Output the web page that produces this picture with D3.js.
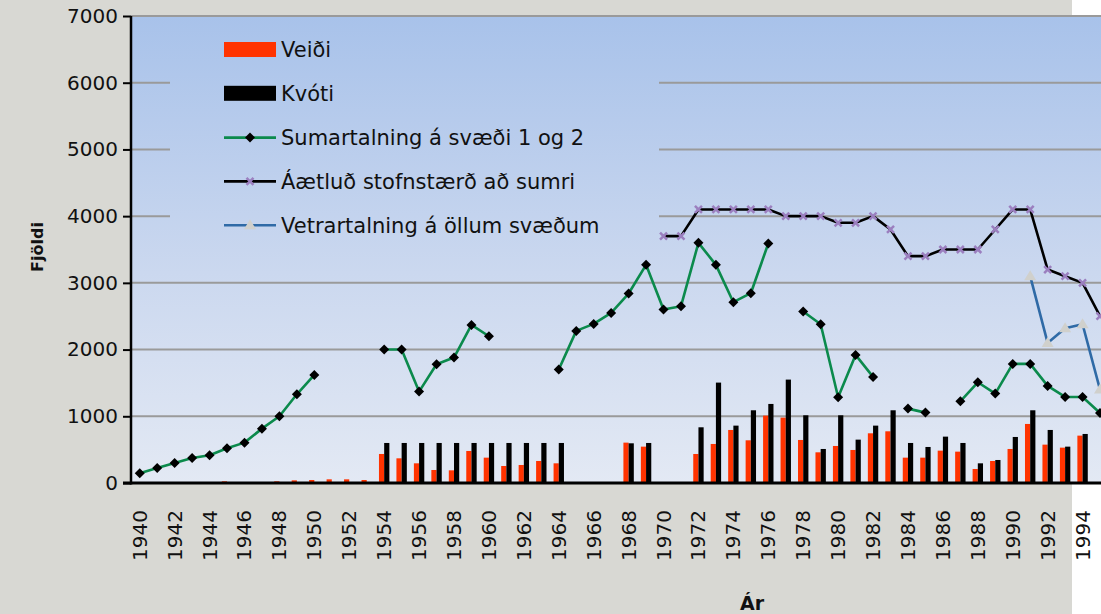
<!DOCTYPE html>
<html>
<head>
<meta charset="utf-8">
<script src="https://cdn.jsdelivr.net/npm/d3@7"></script>
<style>
  body { margin: 0; overflow: hidden; background: #fff; }
  svg { display: block; }
</style>
</head>
<body>
<div id="vis"></div>
<script>
// chart data
const years = [1940, 1941, 1942, 1943, 1944, 1945, 1946, 1947, 1948, 1949,
  1950, 1951, 1952, 1953, 1954, 1955, 1956, 1957, 1958, 1959,
  1960, 1961, 1962, 1963, 1964, 1965, 1966, 1967, 1968, 1969,
  1970, 1971, 1972, 1973, 1974, 1975, 1976, 1977, 1978, 1979,
  1980, 1981, 1982, 1983, 1984, 1985, 1986, 1987, 1988, 1989,
  1990, 1991, 1992, 1993, 1994, 1995];

// Veiði (catch)
const veidi = [null, null, null, null, 10, 25, null, 10, 25, 40,
  45, 55, 55, 45, 435, 370, 295, 195, 190, 480,
  380, 255, 270, 330, 295, null, null, null, 605, 545,
  null, null, 435, 585, 795, 640, 1010, 980, 645, 460,
  555, 495, 745, 775, 380, 380, 485, 470, 210, 330,
  510, 885, 575, 530, 710, null];

// Kvóti (quota)
const kvoti = [null, null, null, null, null, null, null, null, null, null,
  null, null, null, null, 600, 600, 600, 600, 600, 600,
  600, 600, 600, 600, 600, null, null, null, 595, 600,
  null, null, 835, 1505, 860, 1090, 1185, 1550, 1015, 510,
  1015, 650, 860, 1090, 600, 540, 695, 600, 295, 345,
  690, 1090, 795, 545, 735, null];

// Sumartalning á svæði 1 og 2
const sumar = [145, 225, 300, 375, 415, 520, 605, 815, 1000, 1330,
  1620, null, null, null, 2000, 2000, 1370, 1780, 1880, 2370,
  2200, null, null, null, 1700, 2280, 2385, 2550, 2840, 3270,
  2600, 2650, 3600, 3270, 2710, 2845, 3590, null, 2570, 2380,
  1285, 1920, 1590, null, 1115, 1055, null, 1225, 1510, 1340,
  1785, 1785, 1455, 1290, 1290, 1050];

// Áætluð stofnstærð að sumri
const aetlud = [null, null, null, null, null, null, null, null, null, null,
  null, null, null, null, null, null, null, null, null, null,
  null, null, null, null, null, null, null, null, null, null,
  3700, 3700, 4100, 4100, 4100, 4100, 4100, 4000, 4000, 4000,
  3900, 3900, 4000, 3800, 3400, 3400, 3500, 3500, 3500, 3800,
  4100, 4100, 3200, 3100, 3000, 2500];

// Vetrartalning á öllum svæðum
const vetrar = [null, null, null, null, null, null, null, null, null, null,
  null, null, null, null, null, null, null, null, null, null,
  null, null, null, null, null, null, null, null, null, null,
  null, null, null, null, null, null, null, null, null, null,
  null, null, null, null, null, null, null, null, null, null,
  null, 3100, 2100, 2320, 2380, 1400];

const yTicks = [0, 1000, 2000, 3000, 4000, 5000, 6000, 7000];

const legendItems = [
  { name: 'Veiði', type: 'bar', color: '#ff3300' },
  { name: 'Kvóti', type: 'bar', color: '#000000' },
  { name: 'Sumartalning á svæði 1 og 2', type: 'line', color: '#0b8a4c', marker: 'diamond' },
  { name: 'Áætluð stofnstærð að sumri', type: 'line', color: '#000000', marker: 'cross' },
  { name: 'Vetrartalning á öllum svæðum', type: 'line', color: '#2f6aa6', marker: 'triangle' }
];

const width = 1101;
const height = 614;
const font = 'DejaVu Sans, sans-serif';

const svg = d3.select('#vis').append('svg')
  .attr('width', width)
  .attr('height', height);

// plot background gradient
let grad = svg.append('defs').append('linearGradient')
  .attr('id', 'plotBg')
  .attr('gradientUnits', 'userSpaceOnUse')
  .attr('x1', 0).attr('y1', 16)
  .attr('x2', 0).attr('y2', 483);
grad.append('stop').attr('offset', '0%').attr('stop-color', '#a8c2ea');
grad.append('stop').attr('offset', '55%').attr('stop-color', '#cbd8ef');
grad.append('stop').attr('offset', '100%').attr('stop-color', '#e3e9f4');

// page background: grey with a white strip on the right
svg.append('rect').attr('x', 0).attr('y', 0).attr('width', 1072).attr('height', height).attr('fill', '#d8d8d3');
svg.append('rect').attr('x', 1072).attr('y', 0).attr('width', width - 1072).attr('height', height).attr('fill', '#ffffff');

// scales
let x = d3.scaleBand()
  .domain(years)
  .range([131, 131 + years.length * 17.46]);

let y = d3.scaleLinear()
  .domain([0, 7000])
  .range([483, 16]);

let cx = d => x(d) + x.bandwidth() / 2;

// plot area
svg.append('rect')
  .attr('x', 131).attr('y', y(7000))
  .attr('width', width - 131).attr('height', y(0) - y(7000))
  .attr('fill', 'url(#plotBg)');

// gridlines
svg.append('g').selectAll('line')
  .data(yTicks.filter(d => d > 0))
  .join('line')
  .attr('x1', 131).attr('x2', width)
  .attr('y1', d => y(d)).attr('y2', d => y(d))
  .attr('stroke', '#9a9a9a')
  .attr('stroke-width', 2);

// legend box hides the gridlines behind it
svg.append('rect')
  .attr('x', 170).attr('y', 30)
  .attr('width', 489).attr('height', 220)
  .attr('fill', 'url(#plotBg)');

// bars
let barW = 5.2;
let bars = svg.append('g');
bars.selectAll('.veidi')
  .data(years.map((yr, i) => ({ yr: yr, v: veidi[i] })).filter(d => d.v != null))
  .join('rect')
  .attr('class', 'veidi')
  .attr('x', d => cx(d.yr) - barW)
  .attr('width', barW)
  .attr('y', d => y(d.v))
  .attr('height', d => y(0) - y(d.v))
  .attr('fill', '#ff3300');

bars.selectAll('.kvoti')
  .data(years.map((yr, i) => ({ yr: yr, v: kvoti[i] })).filter(d => d.v != null))
  .join('rect')
  .attr('class', 'kvoti')
  .attr('x', d => cx(d.yr))
  .attr('width', barW)
  .attr('y', d => y(d.v))
  .attr('height', d => y(0) - y(d.v))
  .attr('fill', '#000000');

// marker shapes
function drawMarker(g, kind, px, py) {
  if (kind === 'diamond') {
    g.append('path')
      .attr('d', `M${px},${py - 5}L${px + 5},${py}L${px},${py + 5}L${px - 5},${py}Z`)
      .attr('fill', '#000');
  } else if (kind === 'cross') {
    g.append('path')
      .attr('d', `M${px - 3.5},${py - 3.5}L${px + 3.5},${py + 3.5}M${px + 3.5},${py - 3.5}L${px - 3.5},${py + 3.5}`)
      .attr('stroke', '#9b7fbf')
      .attr('stroke-width', 2.5);
  } else if (kind === 'triangle') {
    g.append('path')
      .attr('d', `M${px},${py - 6}L${px + 6},${py + 4}L${px - 6},${py + 4}Z`)
      .attr('fill', '#d0d0cc');
  }
}

let series = [
  { values: sumar, color: '#0b8a4c', marker: 'diamond' },
  { values: aetlud, color: '#000000', marker: 'cross' },
  { values: vetrar, color: '#2f6aa6', marker: 'triangle' }
];

let line = d3.line()
  .defined(d => d.v != null)
  .x(d => cx(d.yr))
  .y(d => y(d.v));

series.forEach(s => {
  let pts = years.map((yr, i) => ({ yr: yr, v: s.values[i] }));
  svg.append('path')
    .datum(pts)
    .attr('d', line)
    .attr('fill', 'none')
    .attr('stroke', s.color)
    .attr('stroke-width', 2.6)
    .attr('stroke-linejoin', 'round');
  let mg = svg.append('g');
  pts.filter(d => d.v != null).forEach(d => drawMarker(mg, s.marker, cx(d.yr), y(d.v)));
});

// y axis
let yAxis = svg.append('g')
  .attr('transform', 'translate(131,0)')
  .call(d3.axisLeft(y).tickValues(yTicks).tickSize(8).tickPadding(5).tickFormat(d3.format('d')));
yAxis.select('.domain').remove();
yAxis.selectAll('.tick line').attr('stroke', '#000').attr('stroke-width', 2);
yAxis.selectAll('.tick text')
  .attr('font-family', font)
  .attr('font-size', 20)
  .attr('fill', '#111');
svg.append('line')
  .attr('x1', 131).attr('x2', 131)
  .attr('y1', y(7000)).attr('y2', y(0) + 1.5)
  .attr('stroke', '#000').attr('stroke-width', 2.5);

// x axis
let xAxis = svg.append('g')
  .attr('transform', `translate(0,${y(0)})`)
  .call(d3.axisBottom(x).tickValues(years.filter(d => d % 2 === 0)).tickSize(0));
xAxis.select('.domain').remove();
xAxis.selectAll('.tick text')
  .attr('transform', 'rotate(-90)')
  .attr('text-anchor', 'end')
  .attr('x', -27)
  .attr('y', 0)
  .attr('dy', '0.35em')
  .attr('font-family', font)
  .attr('font-size', 20)
  .attr('fill', '#111');
svg.append('line')
  .attr('x1', 123).attr('x2', width)
  .attr('y1', y(0)).attr('y2', y(0))
  .attr('stroke', '#000').attr('stroke-width', 3);

// axis titles
svg.append('text')
  .attr('transform', 'translate(37,247) rotate(-90)')
  .attr('text-anchor', 'middle')
  .attr('dy', '0.35em')
  .attr('font-family', font)
  .attr('font-weight', 'bold')
  .attr('font-size', 16)
  .attr('fill', '#111')
  .text('Fjöldi');

svg.append('text')
  .attr('x', 752).attr('y', 603)
  .attr('text-anchor', 'middle')
  .attr('dy', '0.35em')
  .attr('font-family', font)
  .attr('font-weight', 'bold')
  .attr('font-size', 19)
  .attr('fill', '#111')
  .text('Ár');

// legend
let legend = svg.append('g');
legendItems.forEach((item, i) => {
  let ly = 50 + i * 43.8;
  let g = legend.append('g');
  if (item.type === 'bar') {
    g.append('rect')
      .attr('x', 224).attr('y', ly - 8)
      .attr('width', 52).attr('height', 15)
      .attr('fill', item.color);
  } else {
    g.append('line')
      .attr('x1', 224).attr('x2', 276)
      .attr('y1', ly).attr('y2', ly)
      .attr('stroke', item.color)
      .attr('stroke-width', 2.6);
    drawMarker(g, item.marker, 250, ly);
  }
  g.append('text')
    .attr('x', 281).attr('y', ly)
    .attr('dy', '0.35em')
    .attr('font-family', font)
    .attr('font-size', 21)
    .attr('fill', '#111')
    .text(item.name);
});
</script>
</body>
</html>
